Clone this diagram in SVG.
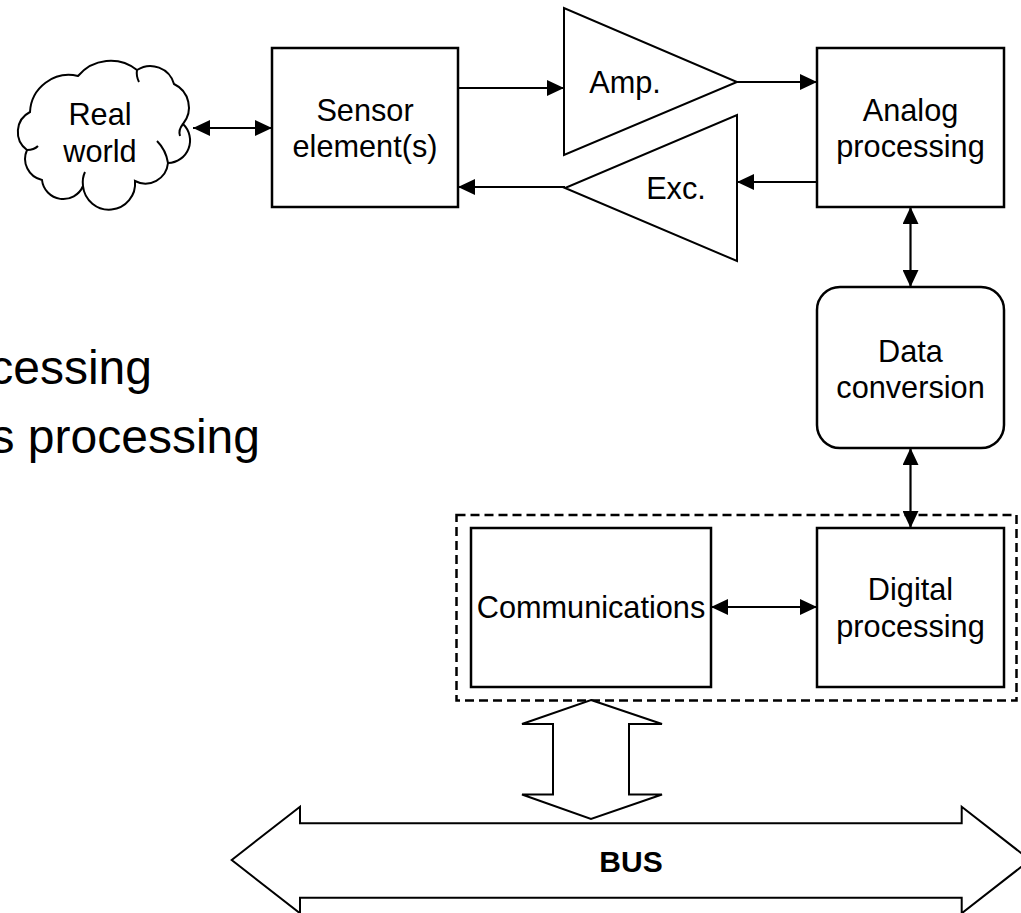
<svg xmlns="http://www.w3.org/2000/svg" width="1021" height="913" viewBox="0 0 1021 913">
  <style>
    .box { fill: #fff; stroke: #000; stroke-width: 2.5; }
    .tri { fill: #fff; stroke: #000; stroke-width: 2; stroke-linejoin: miter; }
    .cloud { fill: #fff; stroke: #000; stroke-width: 2; }
    .curl { fill: none; stroke: #000; stroke-width: 2; }
    .lbl { font-family: "Liberation Sans", Arial, sans-serif; font-size: 30.7px; fill: #000; text-anchor: middle; }
    .big { font-family: "Liberation Sans", Arial, sans-serif; font-size: 48px; fill: #000; text-anchor: end; }
    .bus { font-family: "Liberation Sans", Arial, sans-serif; font-size: 30px; font-weight: bold; fill: #000; text-anchor: middle; }
    .conn { stroke: #000; stroke-width: 2.2; fill: none; }
    .group { fill: none; stroke: #000; stroke-width: 2.5; stroke-dasharray: 9 5; }
  </style>
  <defs>
    <marker id="head" markerUnits="userSpaceOnUse" markerWidth="17" markerHeight="16" refX="17" refY="8" orient="auto-start-reverse">
      <path d="M0,0 L17,8 L0,16 Z" fill="#000"/>
    </marker>
  </defs>

  <rect width="1021" height="913" fill="#fff"/>

  <!-- background slide text, partly off the left edge -->
  <g id="slide-text">
    <text class="big" x="152" y="384">cessing</text>
    <text class="big" x="260" y="453">s processing</text>
  </g>

  <!-- connectors -->
  <g id="connectors">
    <line class="conn" x1="193" y1="128" x2="272" y2="128" marker-start="url(#head)" marker-end="url(#head)"/>
    <line class="conn" x1="458" y1="88" x2="564" y2="88" marker-end="url(#head)"/>
    <line class="conn" x1="737" y1="82" x2="817" y2="82" marker-end="url(#head)"/>
    <line class="conn" x1="817" y1="182" x2="737" y2="182" marker-end="url(#head)"/>
    <line class="conn" x1="565" y1="187" x2="458" y2="187" marker-end="url(#head)"/>
    <line class="conn" x1="910.5" y1="207" x2="910.5" y2="287" marker-start="url(#head)" marker-end="url(#head)"/>
    <line class="conn" x1="910.5" y1="448" x2="910.5" y2="528" marker-start="url(#head)" marker-end="url(#head)"/>
    <line class="conn" x1="711" y1="607" x2="817" y2="607" marker-start="url(#head)" marker-end="url(#head)"/>
  </g>

  <g id="real-world">
    <path class="cloud" d="M30,112 A39,39 0 0 1 78,76 A42.5,42.5 0 0 1 137,70 A24.6,24.6 0 0 1 174,84 A26,26 0 0 1 183,124 A22.6,22.6 0 0 1 168,163 A22.7,22.7 0 0 1 135,181 A26,26 0 0 1 83,186 A21.4,21.4 0 0 1 42,180 A21.6,21.6 0 0 1 27,150 A22.4,22.4 0 0 1 30,112 Z"/>
    <path class="curl" d="M183,124 Q178,130 180,136"/>
    <path class="curl" d="M168,163 Q166,150 157,141"/>
    <path class="curl" d="M83,186 Q82,178 85,172"/>
    <path class="curl" d="M27,150 Q34,150 38,146"/>
    <path class="curl" d="M137,70 Q136,76 139,82"/>
    <text class="lbl" x="100" y="125">Real</text>
    <text class="lbl" x="100" y="162">world</text>
  </g>

  <g id="sensor">
    <rect class="box" x="272" y="48" width="186" height="159"/>
    <text class="lbl" x="365" y="120.7">Sensor</text>
    <text class="lbl" x="365" y="156.7">element(s)</text>
  </g>

  <g id="amp">
    <polygon class="tri" points="564,8 564,155 737,82"/>
    <text class="lbl" x="625" y="93.3">Amp.</text>
  </g>

  <g id="exc">
    <polygon class="tri" points="737,115 737,261 565,188"/>
    <text class="lbl" x="676" y="199">Exc.</text>
  </g>

  <g id="analog">
    <rect class="box" x="817" y="48" width="187" height="159"/>
    <text class="lbl" x="910.5" y="120.7">Analog</text>
    <text class="lbl" x="910.5" y="156.7">processing</text>
  </g>

  <g id="data-conversion">
    <rect class="box" x="817" y="287" width="187" height="161" rx="23" ry="23"/>
    <text class="lbl" x="910.5" y="361.7">Data</text>
    <text class="lbl" x="910.5" y="398">conversion</text>
  </g>

  <g id="digital-block">
    <rect class="group" x="456.5" y="515" width="560" height="185.5"/>
  </g>

  <g id="communications">
    <rect class="box" x="471" y="528" width="240" height="159"/>
    <text class="lbl" x="591" y="618.3">Communications</text>
  </g>

  <g id="digital">
    <rect class="box" x="817" y="528" width="187" height="159"/>
    <text class="lbl" x="910.5" y="600">Digital</text>
    <text class="lbl" x="910.5" y="636.7">processing</text>
  </g>

  <g id="bus-link">
    <polygon class="tri" points="591,700 662,724 629,724 629,794.5 662,794.5 591,819 522,794.5 553,794.5 553,724 522,724"/>
  </g>

  <g id="bus">
    <polygon class="tri" points="231.7,860 300,806.7 300,823.3 961.7,823.3 961.7,806.7 1030,860 961.7,913.3 961.7,897.7 300,897.7 300,913.3"/>
    <text class="bus" x="631" y="871.7">BUS</text>
  </g>
</svg>
